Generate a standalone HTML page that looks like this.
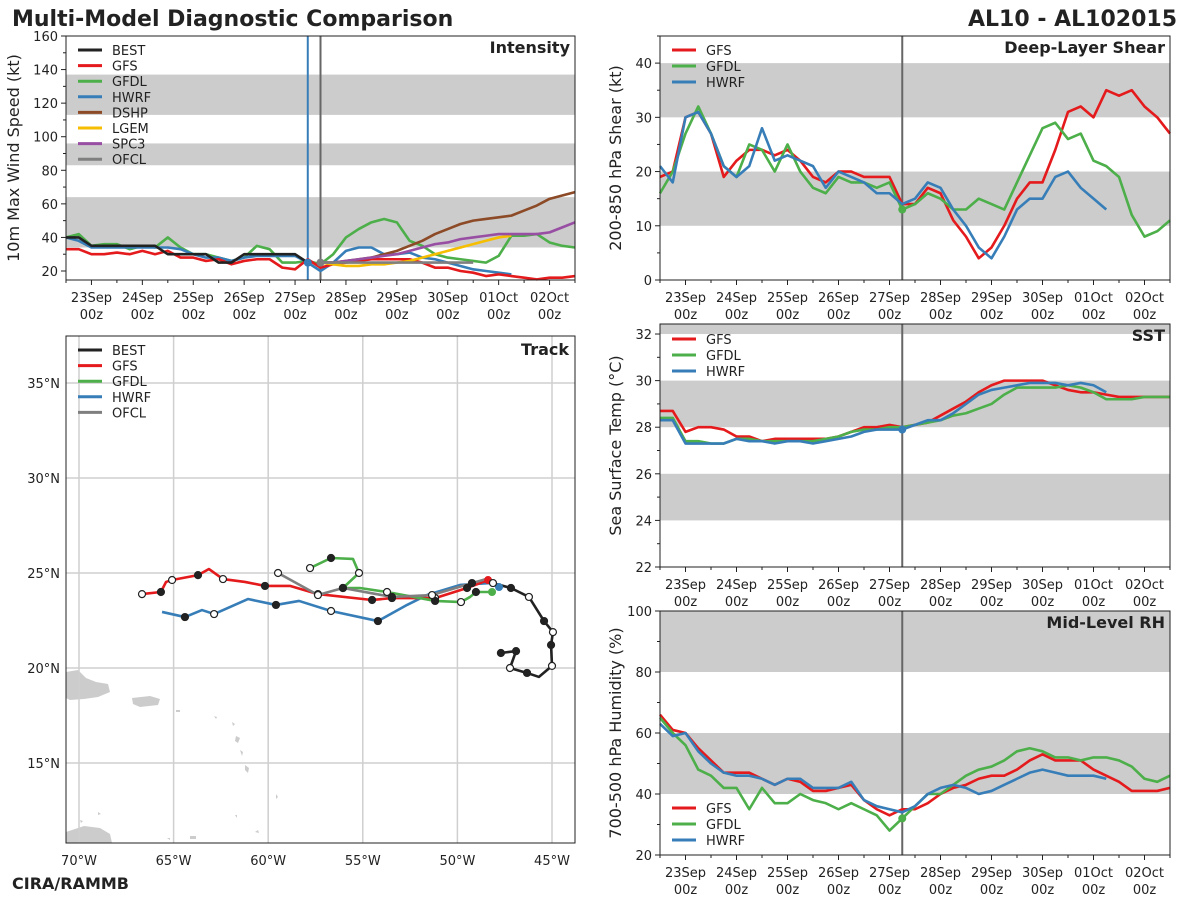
<!DOCTYPE html>
<html><head><meta charset="utf-8"><style>
body{margin:0;background:#fff;}
svg{display:block;font-family:"DejaVu Sans","Liberation Sans",sans-serif;}
</style></head><body>
<svg id="chart" width="1200" height="900" viewBox="0 0 1200 900">
<rect width="1200" height="900" fill="#fff"/>
<text x="12" y="26" font-size="22" font-weight="bold" fill="#222">Multi-Model Diagnostic Comparison</text>
<text x="1177" y="26" font-size="22" font-weight="bold" fill="#222" text-anchor="end">AL10 - AL102015</text>
<text x="12" y="889" font-size="16" font-weight="bold" fill="#222">CIRA/RAMMB</text>
</svg>
<script>
const NS='http://www.w3.org/2000/svg';
const svg=document.getElementById('chart');
// ---- data (6-hourly from 22Sep 12z, index 0..40) ----
const dayLabels=['23Sep','24Sep','25Sep','26Sep','27Sep','28Sep','29Sep','30Sep','01Oct','02Oct'];
const intBEST=[40,40,35,35,35,35,35,35,30,30,30,30,25,25,30,30,30,30,30,25];
const intGFS=[33,33,30,30,31,30,32,30,32,28,28,26,27,24,26,27,27,22,21,27,22,24,25,26,27,27,27,27,25,22,22,20,19,17,18,17,16,15,16,16,17];
const intGFDL=[40,42,35,36,36,33,35,34,40,34,30,30,28,26,28,35,33,25,25,26,24,30,40,45,49,51,49,38,35,30,28,27,26,25,29,41,41,42,37,35,34];
const intHWRF=[40,38,34,34,34,34,34,34,34,33,30,28,28,26,28,29,29,29,29,25,20,25,32,34,34,30,30,31,28,27,25,23,21,20,19,18];
const intDSHP=[25,25,26,27,28,30,32,35,38,42,45,48,50,51,52,53,56,59,63,65,67];
const intLGEM=[25,24,23,23,24,24,25,26,28,30,32,34,36,38,40,41];
const intSPC3=[25,25,26,27,28,29,30,32,34,36,37,39,40,41,42,42,42,42,43,46,49];
const intOFCL=[25,25,25,25,25,25,25,25,25,25,25,25,25];
const shrGFS=[19,20,30,31,27,19,22,24,24,23,24,22,19,18,20,20,19,19,19,14,14,17,16,11,8,4,6,10,15,18,18,24,31,32,30,35,34,35,32,30,27];
const shrGFDL=[16,20,27,32,27,21,19,25,24,20,25,20,17,16,19,18,18,17,18,13,14,16,15,13,13,15,14,13,18,23,28,29,26,27,22,21,19,12,8,9,11];
const shrHWRF=[21,18,30,31,27,21,19,21,28,22,23,22,21,17,20,19,18,16,16,14,15,18,17,13,10,6,4,8,13,15,15,19,20,17,15,13];
const sstGFS=[28.7,28.7,27.8,28.0,28.0,27.9,27.6,27.6,27.4,27.5,27.5,27.5,27.5,27.5,27.6,27.8,28.0,28.0,28.1,28.0,28.1,28.2,28.5,28.8,29.1,29.5,29.8,30.0,30.0,30.0,30.0,29.8,29.6,29.5,29.5,29.4,29.3,29.3,29.3,29.3,29.3];
const sstGFDL=[28.4,28.4,27.4,27.4,27.3,27.3,27.5,27.5,27.4,27.4,27.4,27.4,27.4,27.5,27.6,27.8,27.9,27.9,28.0,28.0,28.1,28.2,28.3,28.5,28.6,28.8,29.0,29.4,29.7,29.7,29.7,29.7,29.8,29.7,29.5,29.2,29.2,29.2,29.3,29.3,29.3];
const sstHWRF=[28.3,28.3,27.3,27.3,27.3,27.3,27.5,27.4,27.4,27.3,27.4,27.4,27.3,27.4,27.5,27.6,27.8,27.9,27.9,27.9,28.1,28.3,28.3,28.6,29.0,29.4,29.6,29.7,29.8,29.9,29.9,29.9,29.8,29.9,29.8,29.5];
const rhGFS=[66,61,60,55,51,47,47,47,45,43,45,44,41,41,42,43,38,35,33,35,35,37,40,42,43,45,46,46,48,51,53,51,51,51,48,46,44,41,41,41,42];
const rhGFDL=[65,60,56,48,46,42,42,35,42,37,37,40,38,37,35,37,35,33,28,32,36,40,40,43,46,48,49,51,54,55,54,52,52,51,52,52,51,49,45,44,46];
const rhHWRF=[63,59,60,54,50,47,46,46,45,43,45,45,42,42,42,44,38,36,35,34,36,40,42,43,42,40,41,43,45,47,48,47,46,46,46,45];
// track: longitude (deg W), latitude (deg N), marker (1 filled, 0 open, -1 none)
const trkBESTlon=[47.70,46.90,47.22,46.32,45.69,45.00,45.05,44.95,45.42,46.22,47.17,48.12,48.38];
const trkBESTlat=[20.79,20.89,20.00,19.74,19.53,20.11,21.21,21.89,22.47,23.74,24.21,24.47,24.74];
const trkBESTmk=[1,1,0,1,-1,0,1,0,1,0,1,0,-1];
const trkGFSlon=[48.38,49.49,51.18,53.46,54.51,57.37,58.85,60.17,61.23,62.39,63.13,63.71,65.08,65.40,65.67,66.67];
const trkGFSlat=[24.63,24.21,23.68,23.68,23.58,23.89,24.32,24.32,24.53,24.68,25.21,24.89,24.63,24.53,24.00,23.89];
const trkGFSmk=[-1,1,0,1,1,0,-1,1,-1,0,-1,1,0,-1,1,0];
const trkGFDLlon=[48.17,49.02,49.33,49.81,51.18,53.72,55.15,56.05,55.20,55.52,56.68,57.79];
const trkGFDLlat=[24.00,24.00,23.74,23.47,23.53,24.00,24.21,24.21,25.00,25.74,25.79,25.26];
const trkGFDLmk=[-1,1,-1,0,1,0,-1,1,0,-1,1,0];
const trkHWRFlon=[47.80,48.28,49.86,51.61,52.66,54.20,56.68,58.37,59.59,61.07,62.86,63.50,64.40,65.61];
const trkHWRFlat=[24.26,24.47,24.37,23.84,23.32,22.47,23.00,23.53,23.32,23.63,22.84,23.05,22.68,22.95];
const trkHWRFmk=[-1,-1,-1,-1,-1,1,0,-1,1,-1,0,-1,1,-1];
const trkOFCLlon=[48.28,49.23,51.34,53.46,56.05,57.37,59.48];
const trkOFCLlat=[24.74,24.47,23.84,23.74,24.21,23.84,25.00];
const trkOFCLmk=[-1,1,0,1,1,0,0];

const C={BEST:'#222222',GFS:'#e41a1c',GFDL:'#4daf4a',HWRF:'#377eb8',DSHP:'#8c4a26',LGEM:'#f5be00',SPC3:'#984ea3',OFCL:'#7f7f7f'};

function mk(tag,attrs,parent){const e=document.createElementNS(NS,tag);for(const k in attrs)e.setAttribute(k,attrs[k]);(parent||svg).appendChild(e);return e;}

function timePanel(p){
  const g=mk('g',{});
  
  
  const sx=t=>p.x0+t/40*(p.x1-p.x0);
  const sy=v=>p.y1-(v-p.ymin)/(p.ymax-p.ymin)*(p.y1-p.y0);
  p.bands.forEach(b=>{
    const lo=Math.max(b[0],p.ymin),hi=Math.min(b[1],p.ymax);
    const r=mk('rect',{x:p.x0,y:sy(hi),width:p.x1-p.x0,height:sy(lo)-sy(hi),fill:'#cccccc'},g);
    
    
  });
  p.vlines.forEach(v=>{
    const l=mk('line',{x1:sx(v[0]),x2:sx(v[0]),y1:p.y0,y2:p.y1,stroke:v[1],'stroke-width':2},g);
    
    
  });
  p.series.forEach(s=>{
    const pts=s.vals.map((v,i)=>sx(s.start+i)+','+sy(v)).join(' ');
    const pl=mk('polyline',{points:pts,fill:'none',stroke:C[s.key],'stroke-width':2.6,'stroke-linejoin':'round'},g);
    
    
  });
  (p.dots||[]).forEach(d=>{
    const c=mk('circle',{cx:sx(d[0]),cy:sy(d[1]),r:4,fill:C[d[2]]},g);
    
    
  });
  const fr=mk('rect',{x:p.x0,y:p.y0,width:p.x1-p.x0,height:p.y1-p.y0,fill:'none',stroke:'#222','stroke-width':1},g);
  
  
  p.yticks.forEach(v=>{
    const t=mk('line',{x1:p.x0-5,x2:p.x0,y1:sy(v),y2:sy(v),stroke:'#222'},g);
    
    
    const tx=mk('text',{x:p.x0-8,y:sy(v)+5,'font-size':13,'text-anchor':'end',fill:'#222'},g);
    
    
    tx.textContent=v;
  });
  p.yminor.forEach(v=>{
    const t=mk('line',{x1:p.x0-3,x2:p.x0,y1:sy(v),y2:sy(v),stroke:'#222'},g);
    
    
  });
  for(let t=0;t<=40;t+=2){
    const big=(t-2)%4===0;
    const tk=mk('line',{x1:sx(t),x2:sx(t),y1:p.y1,y2:p.y1+(big?5:3),stroke:'#222'},g);
    
    
  }
  dayLabels.forEach((d,i)=>{
    const x=sx(2+4*i);
    const a=mk('text',{x:x,y:p.y1+22,'font-size':13,'text-anchor':'middle',fill:'#222'},g);
    
    
    a.textContent=d;
    const b=mk('text',{x:x,y:p.y1+39,'font-size':13,'text-anchor':'middle',fill:'#222'},g);
    
    
    b.textContent='00z';
  });
  const yt=mk('text',{x:0,y:0,'font-size':16,'text-anchor':'middle',fill:'#222',transform:`translate(${p.ylabX},${(p.y0+p.y1)/2}) rotate(-90)`},g);
  
  
  yt.textContent=p.ylabel;
  const tt=mk('text',{x:p.x1-5,y:p.y0+17,'font-size':16,'font-weight':'bold','text-anchor':'end',fill:'#222'},g);
  
  
  tt.textContent=p.title;
  legend(g,p.x0+12,p.legY,p.legend,p.legStep);
}
function legend(g,x,y,keys,step){
  keys.forEach((k,i)=>{
    const yy=y+i*step;
    const l=mk('line',{x1:x,x2:x+24,y1:yy,y2:yy,stroke:C[k],'stroke-width':3},g);
    
    
    const t=mk('text',{x:x+34,y:yy+5,'font-size':13,fill:'#222'},g);
    
    
    t.textContent=k;
  });
}
function rng(a,b,s){const r=[];for(let v=a;v<=b+1e-9;v+=s)r.push(+v.toFixed(2));return r;}

timePanel({name:'intensity',x0:66,x1:575,y0:36,y1:280,ymin:14.64,ymax:160,title:'Intensity',ylabel:'10m Max Wind Speed (kt)',ylabX:19,
  bands:[[34,64],[83,96],[113,137]],vlines:[[19,'#377eb8'],[20,'#666666']],
  yticks:rng(20,160,20),yminor:rng(30,150,20),legY:50,legStep:15.6,
  legend:['BEST','GFS','GFDL','HWRF','DSHP','LGEM','SPC3','OFCL'],
  series:[{key:'GFDL',vals:intGFDL,start:0},{key:'HWRF',vals:intHWRF,start:0},{key:'GFS',vals:intGFS,start:0},
    {key:'DSHP',vals:intDSHP,start:20},{key:'LGEM',vals:intLGEM,start:20},{key:'SPC3',vals:intSPC3,start:20},
    {key:'OFCL',vals:intOFCL,start:20},{key:'BEST',vals:intBEST,start:0}],
  dots:[[19,25,'HWRF'],[20,25,'OFCL']]});
timePanel({name:'shear',x0:660,x1:1170,y0:36,y1:280,ymin:0,ymax:45,title:'Deep-Layer Shear',ylabel:'200-850 hPa Shear (kt)',ylabX:621,
  bands:[[10,20],[30,40]],vlines:[[19,'#666666']],yticks:rng(0,40,10),yminor:rng(5,45,10),legY:50,legStep:16,
  legend:['GFS','GFDL','HWRF'],
  series:[{key:'GFS',vals:shrGFS,start:0},{key:'GFDL',vals:shrGFDL,start:0},{key:'HWRF',vals:shrHWRF,start:0}],
  dots:[[19,13,'GFDL']]});
timePanel({name:'sst',x0:660,x1:1170,y0:324,y1:567,ymin:22,ymax:32.43,title:'SST',ylabel:'Sea Surface Temp (°C)',ylabX:621,
  bands:[[24,26],[28,30],[32,40]],vlines:[[19,'#666666']],yticks:rng(22,32,2),yminor:rng(23,31,2),legY:339,legStep:16,
  legend:['GFS','GFDL','HWRF'],
  series:[{key:'GFS',vals:sstGFS,start:0},{key:'GFDL',vals:sstGFDL,start:0},{key:'HWRF',vals:sstHWRF,start:0}],
  dots:[[19,27.9,'HWRF']]});
timePanel({name:'rh',x0:660,x1:1170,y0:611,y1:855,ymin:20,ymax:100,title:'Mid-Level RH',ylabel:'700-500 hPa Humidity (%)',ylabX:621,
  bands:[[40,60],[80,100]],vlines:[[19,'#666666']],yticks:rng(20,100,20),yminor:rng(30,90,20),legY:808,legStep:16,
  legend:['GFS','GFDL','HWRF'],
  series:[{key:'GFS',vals:rhGFS,start:0},{key:'GFDL',vals:rhGFDL,start:0},{key:'HWRF',vals:rhHWRF,start:0}],
  dots:[[19,32,'GFDL']]});

// ---- track panel ----
(function(){
  const g=mk('g',{});
  
  
  const X0=66,X1=575,Y0=336,Y1=843;
  const lx=w=>79+(70-w)*18.92;
  const ly=l=>573-(l-25)*19;
  const cp=mk('clipPath',{id:'trkclip'},g);
  mk('rect',{x:X0,y:Y0,width:X1-X0,height:Y1-Y0},cp);
  const inner=mk('g',{'clip-path':'url(#trkclip)'},g);
  
  
  const land=['M66,672 L78,670 L86,678 L96,682 L108,684 L110,692 L98,697 L84,699 L70,700 L66,698 Z',
    'M132,698 L150,696 L160,699 L158,705 L140,707 L133,704 Z',
    'M66,832 L84,826 L100,828 L110,834 L112,843 L66,843 Z',
    'M176,710 l4,0 l0,2 l-4,0Z','M214,716 l3,1 l-1,2 Z','M232,722 l3,2 l-2,2 Z','M236,736 l4,2 l-2,5 l-3,-2Z',
    'M240,750 l3,2 l-1,4 Z','M245,765 l4,3 l-1,5 l-3,-3Z','M276,794 l2,3 l-2,2Z','M255,832 l3,-2 l1,3Z','M235,815 l2,0 l0,3Z',
    'M98,812 l3,2 l-3,1Z','M80,820 l3,1 l-2,2Z','M190,836 l6,0 l0,3 l-6,0Z','M167,838 l3,0 l0,2Z'];
  land.forEach(d=>{
    const p=mk('path',{d:d,fill:'#cccccc'},inner);
    
    
  });
  [70,65,60,55,50,45].forEach(w=>{
    const l=mk('line',{x1:lx(w),x2:lx(w),y1:Y0,y2:Y1,stroke:'#cfcfcf','stroke-width':1.5},inner);
    
    
    const t=mk('text',{x:lx(w),y:Y1+22,'font-size':13,'text-anchor':'middle',fill:'#222'},g);
    
    
    t.textContent=w+'°W';
  });
  [35,30,25,20,15].forEach(la=>{
    const l=mk('line',{x1:X0,x2:X1,y1:ly(la),y2:ly(la),stroke:'#cfcfcf','stroke-width':1.5},inner);
    
    
    const t=mk('text',{x:X0-6,y:ly(la)+5,'font-size':13,'text-anchor':'end',fill:'#222'},g);
    
    
    t.textContent=la+'°N';
  });
  const tracks=[['HWRF',trkHWRFlon,trkHWRFlat,trkHWRFmk],['GFS',trkGFSlon,trkGFSlat,trkGFSmk],['GFDL',trkGFDLlon,trkGFDLlat,trkGFDLmk],
    ['OFCL',trkOFCLlon,trkOFCLlat,trkOFCLmk],['BEST',trkBESTlon,trkBESTlat,trkBESTmk]];
  tracks.forEach(tr=>{
    const pts=tr[1].map((w,i)=>lx(w)+','+ly(tr[2][i])).join(' ');
    const pl=mk('polyline',{points:pts,fill:'none',stroke:C[tr[0]],'stroke-width':2.6,'stroke-linejoin':'round'},inner);
    
    
  });
  tracks.forEach(tr=>{
    tr[3].forEach((m,i)=>{
      if(m<0)return;
      const c=mk('circle',{cx:lx(tr[1][i]),cy:ly(tr[2][i]),r:3.5,fill:m?'#222':'#fff',stroke:'#222','stroke-width':1.2},inner);
      
      
    });
    if(tr[0]!=='BEST'&&tr[0]!=='OFCL'){
      const d=mk('circle',{cx:lx(tr[1][0]),cy:ly(tr[2][0]),r:4,fill:C[tr[0]]},inner);
      
      
    }
  });
  const fr=mk('rect',{x:X0,y:Y0,width:X1-X0,height:Y1-Y0,fill:'none',stroke:'#222','stroke-width':1},g);
  
  
  const tt=mk('text',{x:X1-6,y:Y0+19,'font-size':16,'font-weight':'bold','text-anchor':'end',fill:'#222'},g);
  
  
  tt.textContent='Track';
  legend(g,X0+12,350,['BEST','GFS','GFDL','HWRF','OFCL'],15.6);
})();
</script>
</body></html>
